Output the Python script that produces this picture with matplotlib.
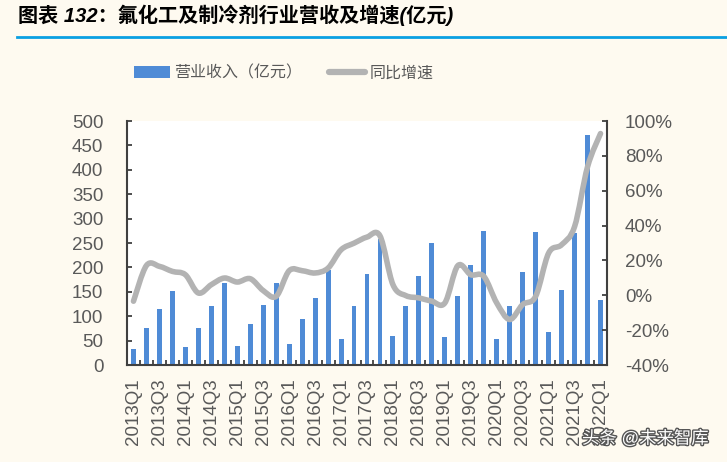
import numpy as np
import matplotlib
matplotlib.use('Agg')
import matplotlib.pyplot as plt
from matplotlib.path import Path
from matplotlib.patches import PathPatch, Patch
from matplotlib.lines import Line2D
from matplotlib.ticker import FuncFormatter, MultipleLocator
import matplotlib.patheffects as pe

plt.rcParams['font.family'] = ['Liberation Sans', 'Noto Sans CJK SC', 'DejaVu Sans']

quarters = [f"{y}Q{q}" for y in range(2013, 2023) for q in range(1, 5)][:37]
revenue = [33, 75, 115, 152, 36, 75, 120, 168, 39, 83, 123, 168,
           44, 94, 138, 194, 54, 120, 186, 259, 60, 120, 183, 249,
           57, 141, 204, 275, 54, 120, 191, 272, 67, 154, 270, 471, 133]
growth = [-3.4, 17.1, 16.6, 13.7, 11.8, 1.3, 6.1, 9.9, 7.6, 9.5, 2.7, -0.6,
          14.1, 14.1, 12.8, 15.6, 26.1, 29.9, 33.4, 34.1, 6.1, -0.2, -1.5, -3.4,
          -4.4, 17.0, 11.8, 10.9, -4.4, -13.9, -5.3, -0.6, 24.2, 29.0, 39.4, 73.7, 92.8]

title = "图表 132：氟化工及制冷剂行业营收及增速(亿元)"
bar_label = "营业收入（亿元）"
line_label = "同比增速"

BG = '#fefaf0'
BAR = '#4f8bd6'
LINE = '#b3b3b3'
TXT = '#595959'
SPINE = '#404040'

W, H = 727, 462
fig = plt.figure(figsize=(W / 100, H / 100), dpi=100, facecolor=BG)

ax = fig.add_axes([127 / W, 1 - 365 / H, 480 / W, 244 / H])
ax.set_facecolor('white')
x = np.arange(len(quarters))
ax.bar(x, revenue, width=0.38, color=BAR, zorder=2)
ax.set_xlim(-0.5, len(quarters) - 0.5)
ax.set_ylim(0, 500)
ax.yaxis.set_major_locator(MultipleLocator(50))
ax.set_xticks(x[::2])
ax.set_xticklabels(quarters[::2], rotation=90)
ax.set_xticks(np.arange(-0.5, len(quarters), 1), minor=True)
ax.tick_params(axis='x', which='major', length=0, pad=9.5, labelsize=13.5, labelcolor=TXT)
ax.tick_params(axis='x', which='minor', direction='in', length=3.6, width=1.3, color=SPINE)
ax.tick_params(axis='y', direction='in', length=3.6, width=1.3, color=SPINE,
               pad=17, labelsize=13.5, labelcolor=TXT)
for s in ['top', 'right']:
    ax.spines[s].set_visible(False)
for s in ['left', 'bottom']:
    ax.spines[s].set_color(SPINE)
    ax.spines[s].set_linewidth(1.5)

ax2 = ax.twinx()
ax2.set_ylim(-40, 100)
ax2.yaxis.set_major_locator(MultipleLocator(20))
ax2.yaxis.set_major_formatter(FuncFormatter(lambda v, p: f"{v:.0f}%"))
ax2.tick_params(axis='y', direction='in', length=3.6, width=1.3, color=SPINE,
                pad=13, labelsize=13.5, labelcolor=TXT)
for s in ['top', 'left', 'bottom']:
    ax2.spines[s].set_visible(False)
ax2.spines['right'].set_color(SPINE)
ax2.spines['right'].set_linewidth(1.5)

# smoothed line (Catmull-Rom as cubic Bezier through the data points)
pts = np.column_stack([x, growth]).astype(float)
n = len(pts)
verts = [pts[0]]
codes = [Path.MOVETO]
for i in range(n - 1):
    p0 = pts[i - 1] if i > 0 else pts[i]
    p1 = pts[i]
    p2 = pts[i + 1]
    p3 = pts[i + 2] if i + 2 < n else pts[i + 1]
    c1 = p1 + (p2 - p0) / 6.0
    c2 = p2 - (p3 - p1) / 6.0
    verts += [c1, c2, p2]
    codes += [Path.CURVE4] * 3
ax2.add_patch(PathPatch(Path(verts, codes), facecolor='none', edgecolor=LINE,
                        lw=4.0, capstyle='round', joinstyle='round', zorder=3))

# title and rule
fig.text(18 / W, 1 - 15 / H, title, fontsize=14.5, fontweight='bold', style='italic',
         color='black', va='center', ha='left')
fig.add_artist(Line2D([17 / W, 1.0], [1 - 37 / H, 1 - 37 / H], color='#0aa0e2', lw=2,
                      transform=fig.transFigure))

handles = [Patch(facecolor=BAR, edgecolor='none'),
           Line2D([0], [0], color=LINE, lw=4.5, solid_capstyle='round')]
fig.legend(handles, [bar_label, line_label], loc='center left',
           bbox_to_anchor=(120 / W, 1 - 73 / H), ncol=2, frameon=False,
           fontsize=11.5, labelcolor=TXT, handlelength=2.2, handleheight=0.75,
           handletextpad=0.3, columnspacing=1.7)

fig.text(582 / W, 1 - 438 / H, "头条 @未来智库", fontsize=12.5, color='white',
         va='center', ha='left',
         path_effects=[pe.withStroke(linewidth=2, foreground='#555555')])

fig.savefig('out.png', dpi=100, facecolor=BG)
